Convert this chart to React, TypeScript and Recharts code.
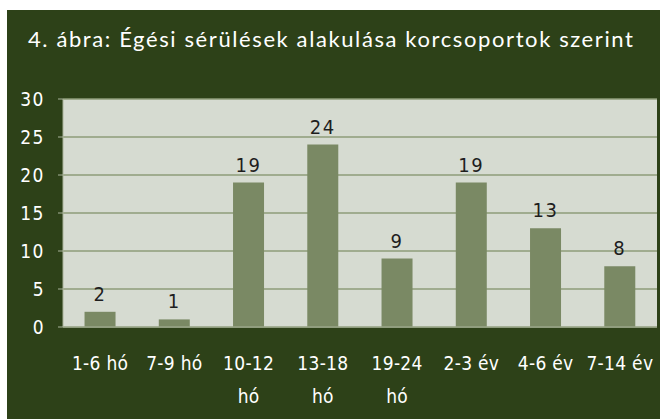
import { BarChart, Bar, XAxis, YAxis, CartesianGrid, LabelList } from 'recharts'

const ageGroups = ['1-6 hó', '7-9 hó', '10-12 hó', '13-18 hó', '19-24 hó', '2-3 év', '4-6 év', '7-14 év']
const burnCounts = [2, 1, 19, 24, 9, 19, 13, 8]
const yTicks = [0, 5, 10, 15, 20, 25, 30]

const data = ageGroups.map((group, i) => ({ group, count: burnCounts[i] }))

const tickFont = '"Liberation Sans Narrow", "DejaVu Sans Condensed", sans-serif'

function AgeTick({ x, y, payload }: any) {
  const label: string = payload.value
  const lines = label.length > 7 ? label.split(' ') : [label]
  return (
    <g transform={`translate(${x},${y})`}>
      {lines.map((line, i) => (
        <text
          key={i}
          x={0}
          y={35 + i * 33}
          textAnchor="middle"
          fill="#ffffff"
          fontSize={19}
          fontFamily={tickFont}
          letterSpacing={0.3}
        >
          {line}
        </text>
      ))}
    </g>
  )
}

export default function App() {
  return (
    <div style={{ position: 'absolute', left: 0, top: 0, width: 660, height: 419, background: '#fff' }}>
      <div style={{ position: 'absolute', left: 7, top: 10, width: 653, height: 409, background: '#2d4118' }}>
        <div
          style={{
            position: 'absolute',
            left: 21,
            top: 15,
            color: '#fff',
            fontFamily: 'Lato, sans-serif',
            fontSize: 22,
            letterSpacing: 1.6,
            whiteSpace: 'nowrap',
          }}
        >
          4. ábra: Égési sérülések alakulása korcsoportok szerint
        </div>
        <BarChart
          width={653}
          height={409}
          data={data}
          margin={{ top: 89, right: 3, bottom: 0, left: 0 }}
          barCategoryGap="29%"
        >
          <CartesianGrid vertical={false} stroke="#8e9c79" strokeWidth={1.5} fill="#d6dbd1" />
          <XAxis
            dataKey="group"
            height={92}
            interval={0}
            tickLine={false}
            axisLine={{ stroke: '#a9b39a' }}
            tick={<AgeTick />}
          />
          <YAxis
            width={56}
            domain={[0, 30]}
            ticks={yTicks}
            interval={0}
            tickSize={5}
            tickMargin={13}
            axisLine={{ stroke: '#a9b39a' }}
            tickLine={{ stroke: '#a9b39a' }}
            tick={{ fill: '#ffffff', fontSize: 19, fontFamily: tickFont, letterSpacing: 1.5 }}
          />
          <Bar dataKey="count" fill="#7a8964" isAnimationActive={false}>
            <LabelList
              dataKey="count"
              position="top"
              offset={11}
              fill="#1e1e1e"
              fontSize={20}
              fontFamily={tickFont}
              letterSpacing={1.5}
            />
          </Bar>
        </BarChart>
      </div>
    </div>
  )
}
